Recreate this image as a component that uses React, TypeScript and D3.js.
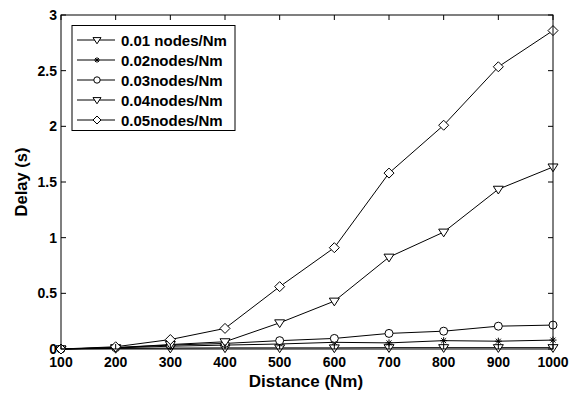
import React from "react";
import * as d3 from "d3";

const distances = [100, 200, 300, 400, 500, 600, 700, 800, 900, 1000];
const d001 = [0.0, 0.005, 0.008, 0.01, 0.01, 0.01, 0.012, 0.012, 0.012, 0.012];
const d002 = [0.0, 0.01, 0.025, 0.035, 0.045, 0.06, 0.055, 0.075, 0.07, 0.08];
const d003 = [0.0, 0.012, 0.035, 0.05, 0.075, 0.095, 0.14, 0.16, 0.205, 0.215];
const d004 = [0.0, 0.012, 0.04, 0.065, 0.235, 0.43, 0.825, 1.05, 1.435, 1.635];
const d005 = [0.0, 0.02, 0.085, 0.185, 0.56, 0.91, 1.58, 2.01, 2.535, 2.86];

const seriesNames = ["0.01 nodes/Nm", "0.02nodes/Nm", "0.03nodes/Nm", "0.04nodes/Nm", "0.05nodes/Nm"];
const seriesMarkers = ["tri", "star", "circle", "tri", "diamond"];
const seriesData = [d001, d002, d003, d004, d005];

const xTicks = [100, 200, 300, 400, 500, 600, 700, 800, 900, 1000];
const yTicks = [0, 0.5, 1, 1.5, 2, 2.5, 3];

const W = 584;
const H = 394;
const left = 61;
const right = 553;
const top = 15;
const bottom = 349;
const FONT = "'Liberation Sans', Arial, Helvetica, sans-serif";

function Marker({ kind, x, y, size = 5 }: { kind: string; x: number; y: number; size?: number }) {
  const s = { fill: "white", stroke: "black", strokeWidth: 1 } as const;
  const r = size;
  if (kind === "tri") {
    return <path d={`M${x - r},${y - r * 0.6} L${x + r},${y - r * 0.6} L${x},${y + r * 0.95} Z`} {...s} />;
  }
  if (kind === "diamond") {
    return <path d={`M${x},${y - r} L${x + r},${y} L${x},${y + r} L${x - r},${y} Z`} {...s} />;
  }
  if (kind === "circle") {
    return <circle cx={x} cy={y} r={r * 0.8} {...s} />;
  }
  // asterisk
  const a = r * 0.7;
  const d = [0, 45, 90, 135]
    .map((deg) => {
      const t = (deg * Math.PI) / 180;
      return `M${x - a * Math.cos(t)},${y - a * Math.sin(t)} L${x + a * Math.cos(t)},${y + a * Math.sin(t)}`;
    })
    .join(" ");
  return <path d={d} stroke="black" strokeWidth={1} fill="none" />;
}

export default function App() {
  const x = d3.scaleLinear().domain([100, 1000]).range([left, right]);
  const y = d3.scaleLinear().domain([0, 3]).range([bottom, top]);
  const line = d3
    .line<number>()
    .x((_, i) => x(distances[i]))
    .y((d) => y(d));
  const tl = 5;

  return (
    <svg width={W} height={H} style={{ position: "absolute", left: 0, top: 0, background: "white" }}>
      <rect x={0} y={0} width={W} height={H} fill="white" />
      {seriesData.map((vals, si) => (
        <path key={si} d={line(vals) || ""} fill="none" stroke="black" strokeWidth={1} />
      ))}
      {seriesData.map((vals, si) =>
        vals.map((v, i) => <Marker key={`${si}-${i}`} kind={seriesMarkers[si]} x={x(distances[i])} y={y(v)} />)
      )}
      {/* axes box with inward ticks */}
      <rect x={left} y={top} width={right - left} height={bottom - top} fill="none" stroke="black" strokeWidth={1} />
      {xTicks.map((t) => (
        <g key={`x${t}`}>
          <line x1={x(t)} x2={x(t)} y1={bottom} y2={bottom - tl} stroke="black" />
          <line x1={x(t)} x2={x(t)} y1={top} y2={top + tl} stroke="black" />
          <text x={x(t)} y={bottom + 18} textAnchor="middle" fontFamily={FONT} fontWeight="bold" fontSize={14}>
            {t}
          </text>
        </g>
      ))}
      {yTicks.map((t) => (
        <g key={`y${t}`}>
          <line x1={left} x2={left + tl} y1={y(t)} y2={y(t)} stroke="black" />
          <line x1={right} x2={right - tl} y1={y(t)} y2={y(t)} stroke="black" />
          <text x={left - 4} y={y(t) + 5} textAnchor="end" fontFamily={FONT} fontWeight="bold" fontSize={14}>
            {t}
          </text>
        </g>
      ))}
      <text x={306} y={387} textAnchor="middle" fontFamily={FONT} fontWeight="bold" fontSize={17}>
        Distance (Nm)
      </text>
      <text
        transform={`translate(27,182) rotate(-90)`}
        textAnchor="middle"
        fontFamily={FONT}
        fontWeight="bold"
        fontSize={16.5}
      >
        Delay (s)
      </text>
      {/* legend */}
      <rect x={72} y={25.5} width={163} height={105} fill="white" stroke="black" strokeWidth={1} />
      {seriesNames.map((name, i) => {
        const ly = 40 + i * 20;
        return (
          <g key={name}>
            <line x1={77} x2={115} y1={ly} y2={ly} stroke="black" />
            <Marker kind={seriesMarkers[i]} x={97} y={ly} size={4} />
            <text x={121} y={ly + 5.5} fontFamily={FONT} fontWeight="bold" fontSize={15}>
              {name}
            </text>
          </g>
        );
      })}
    </svg>
  );
}
